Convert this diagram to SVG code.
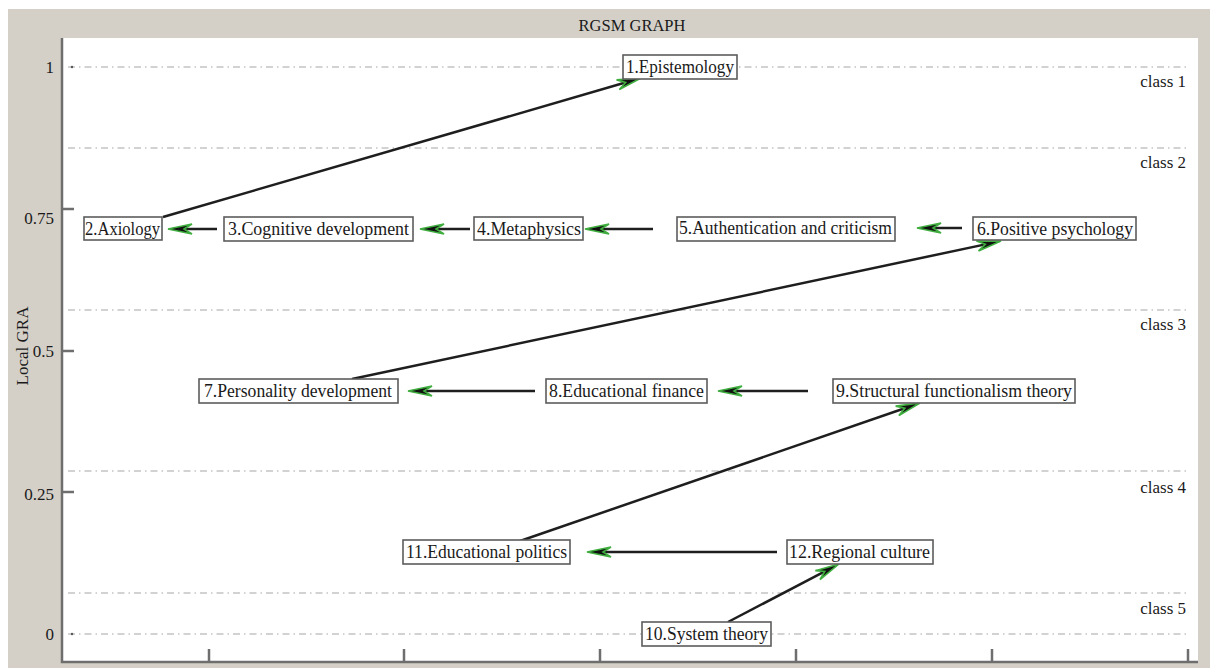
<svg xmlns="http://www.w3.org/2000/svg" width="1210" height="668" viewBox="0 0 1210 668">
  <defs>
    <style>
      .frame { fill: #d4d0c8; }
      .plot { fill: #ffffff; }
      .axis { stroke: #6e6e6e; stroke-width: 2.5; fill: none; }
      .grid { stroke: #c4c4c4; stroke-width: 1.3; stroke-dasharray: 7 4 1.5 4; fill: none; }
      .lbl { font-family: "Liberation Serif", "Times New Roman", serif; font-size: 17px; fill: #1a1a1a; }
      .ttl { font-family: "Liberation Serif", "Times New Roman", serif; font-size: 16.5px; fill: #1a1a1a; }
      .box { fill: #ffffff; stroke: #5c5c5c; stroke-width: 1.6; }
      .txt { font-family: "Liberation Serif", "Times New Roman", serif; font-size: 18px; fill: #1a1a1a; }
      .edge { stroke: #1e1e1e; stroke-width: 2.5; fill: none; marker-end: url(#ah); }
    </style>
    <marker id="ah" viewBox="-26 -7 28 14" refX="-10" refY="0" markerWidth="28" markerHeight="14" orient="auto" markerUnits="userSpaceOnUse">
      <path d="M0,0 L-24,-5 L-16,0 L-24,5 Z" fill="#111111" stroke="#3fae3f" stroke-width="1.6" stroke-linejoin="miter"/>
    </marker>
  </defs>

  <!-- window frame and plot area -->
  <rect x="0" y="0" width="1210" height="668" fill="#ffffff"/>
  <rect class="frame" x="8" y="9" width="1202" height="659"/>
  <rect class="plot" x="62" y="38" width="1136" height="624"/>

  <!-- title and axis labels -->
  <text class="ttl" x="632" y="31" text-anchor="middle">RGSM GRAPH</text>
  <text class="lbl" transform="translate(28,346) rotate(-90)" text-anchor="middle">Local GRA</text>
  <g class="lbl" text-anchor="end">
    <text x="54" y="73">1</text>
    <text x="54" y="224">0.75</text>
    <text x="54" y="357">0.5</text>
    <text x="54" y="500">0.25</text>
    <text x="54" y="640">0</text>
  </g>

  <!-- class boundaries -->
  <g id="grid">
    <line class="grid" x1="68" y1="67" x2="1190" y2="67"/>
    <line class="grid" x1="68" y1="148" x2="1190" y2="148"/>
    <line class="grid" x1="68" y1="310" x2="1190" y2="310"/>
    <line class="grid" x1="68" y1="471" x2="1190" y2="471"/>
    <line class="grid" x1="68" y1="593" x2="1190" y2="593"/>
    <line class="grid" x1="68" y1="634" x2="1190" y2="634"/>
    <circle cx="72" cy="67" r="1.2" fill="#555"/>
    <circle cx="72" cy="634" r="1.2" fill="#555"/>
  </g>
  <g class="lbl" text-anchor="end">
    <text x="1186" y="87">class 1</text>
    <text x="1186" y="168">class 2</text>
    <text x="1186" y="330">class 3</text>
    <text x="1186" y="493">class 4</text>
    <text x="1186" y="614">class 5</text>
  </g>

  <!-- axes and ticks -->
  <g id="axes">
    <polyline class="axis" points="62,38 62,662 1198,662"/>
    <line class="axis" x1="62" y1="209" x2="74" y2="209"/>
    <line class="axis" x1="62" y1="351" x2="74" y2="351"/>
    <line class="axis" x1="62" y1="492" x2="74" y2="492"/>
    <line class="axis" x1="209" y1="649" x2="209" y2="662"/>
    <line class="axis" x1="404" y1="649" x2="404" y2="662"/>
    <line class="axis" x1="600" y1="649" x2="600" y2="662"/>
    <line class="axis" x1="796" y1="649" x2="796" y2="662"/>
    <line class="axis" x1="992" y1="649" x2="992" y2="662"/>
    <line class="axis" x1="1188" y1="649" x2="1188" y2="662"/>
  </g>

  <!-- connectors -->
  <g id="connectors">
    <line class="edge" x1="163" y1="217" x2="631.4" y2="80.8"/>
    <line class="edge" x1="217" y1="229" x2="178" y2="229"/>
    <line class="edge" x1="470" y1="229" x2="430" y2="229"/>
    <line class="edge" x1="653" y1="229" x2="595" y2="229"/>
    <line class="edge" x1="962" y1="228" x2="927" y2="228"/>
    <line class="edge" x1="352" y1="379" x2="991.2" y2="243.1"/>
    <line class="edge" x1="535" y1="391" x2="418" y2="391"/>
    <line class="edge" x1="808" y1="391" x2="728" y2="391"/>
    <line class="edge" x1="520" y1="541" x2="910.5" y2="406.3"/>
    <line class="edge" x1="777" y1="552" x2="597" y2="552"/>
    <line class="edge" x1="728" y1="622" x2="830.1" y2="568.6"/>
  </g>

  <!-- nodes -->
  <g id="n1"><rect class="box" x="623" y="55" width="114" height="24"/><text class="txt" x="626" y="73" textLength="108" lengthAdjust="spacingAndGlyphs">1.Epistemology</text></g>
  <g id="n2"><rect class="box" x="84" y="217" width="78" height="23"/><text class="txt" x="85" y="235" textLength="75" lengthAdjust="spacingAndGlyphs">2.Axiology</text></g>
  <g id="n3"><rect class="box" x="224" y="217" width="189" height="24"/><text class="txt" x="228" y="235" textLength="181" lengthAdjust="spacingAndGlyphs">3.Cognitive development</text></g>
  <g id="n4"><rect class="box" x="474" y="217" width="109" height="23"/><text class="txt" x="477" y="235" textLength="104" lengthAdjust="spacingAndGlyphs">4.Metaphysics</text></g>
  <g id="n5"><rect class="box" x="677" y="217" width="218" height="24"/><text class="txt" x="679" y="234" textLength="213" lengthAdjust="spacingAndGlyphs">5.Authentication and criticism</text></g>
  <g id="n6"><rect class="box" x="973" y="217" width="163" height="23"/><text class="txt" x="977" y="235" textLength="156" lengthAdjust="spacingAndGlyphs">6.Positive psychology</text></g>
  <g id="n7"><rect class="box" x="199" y="379" width="199" height="24"/><text class="txt" x="204" y="397" textLength="188" lengthAdjust="spacingAndGlyphs">7.Personality development</text></g>
  <g id="n8"><rect class="box" x="546" y="379" width="161" height="24"/><text class="txt" x="549" y="397" textLength="155" lengthAdjust="spacingAndGlyphs">8.Educational finance</text></g>
  <g id="n9"><rect class="box" x="833" y="379" width="242" height="24"/><text class="txt" x="836" y="397" textLength="236" lengthAdjust="spacingAndGlyphs">9.Structural functionalism theory</text></g>
  <g id="n10"><rect class="box" x="642" y="622" width="129" height="24"/><text class="txt" x="645" y="640" textLength="123" lengthAdjust="spacingAndGlyphs">10.System theory</text></g>
  <g id="n11"><rect class="box" x="403" y="540" width="167" height="24"/><text class="txt" x="406" y="558" textLength="161" lengthAdjust="spacingAndGlyphs">11.Educational politics</text></g>
  <g id="n12"><rect class="box" x="787" y="540" width="146" height="24"/><text class="txt" x="789" y="558" textLength="141" lengthAdjust="spacingAndGlyphs">12.Regional culture</text></g>
</svg>
